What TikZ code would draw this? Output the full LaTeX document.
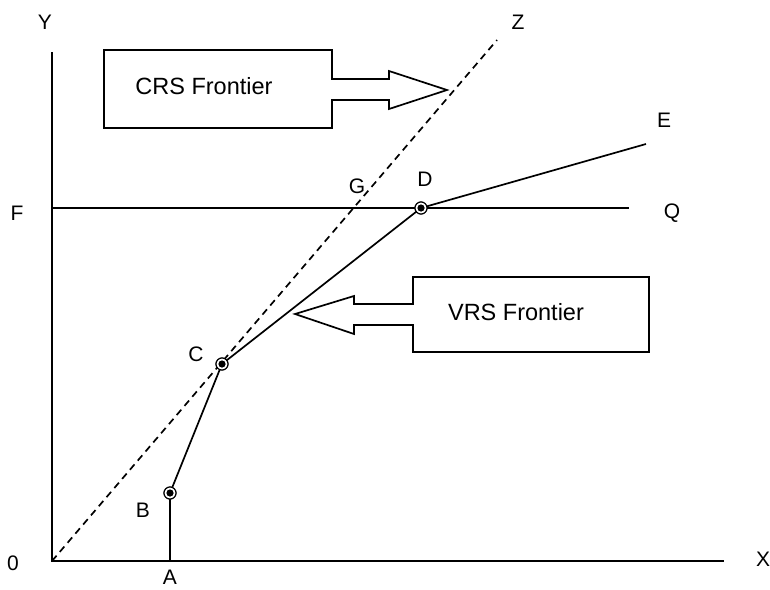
\documentclass[tikz,border=0pt]{standalone}
\usepackage{fontspec}
\setmainfont{Liberation Sans}
\begin{document}
\begin{tikzpicture}[x=1pt,y=-1pt,
  line/.style={line width=1.7pt,line join=miter},
  axis/.style={line width=2pt},
  lbl/.style={font=\fontsize{21}{25}\selectfont,inner sep=0pt},
  boxtext/.style={font=\fontsize{23.5}{28}\selectfont,inner sep=0pt},
  callout/.style={line width=1.7pt,fill=white},
  dmu/.style={circle,draw,line width=1.1pt,fill=white,minimum size=12pt,inner sep=0pt,
    path picture={\fill[black] (path picture bounding box.center) circle (3.6pt);}}]
\useasboundingbox (0,0) rectangle (770,589);

% key points of the production frontier
\coordinate (O) at (52,561);
\coordinate (Ytop) at (52,52);
\coordinate (Xend) at (724,561);
\coordinate (A) at (170,561);
\coordinate (Zend) at (497,40);
\coordinate (F) at (52,208);
\coordinate (Q) at (629,208);
\coordinate (E) at (646,144);

% axes
\draw[axis] (Ytop) -- (O) -- (Xend);

% constant returns to scale ray
\draw[line,dashed,dash pattern=on 7pt off 5pt] (O) -- (Zend);

% horizontal output level
\draw[line] (F) -- (Q);

% variable returns to scale frontier
\node[dmu] (B) at (170,493) {};
\node[dmu] (C) at (222,364) {};
\node[dmu] (D) at (421,208) {};
\draw[line] (A) -- (B.center) -- (C.center) -- (D.center) -- (E);
\node[dmu] at (B) {};
\node[dmu] at (C) {};
\node[dmu] at (D) {};

% callouts
\draw[callout] (104,50) -- (332,50) -- (332,79) -- (389,79) -- (389,71) -- (447,90)
  -- (389,109) -- (389,100) -- (332,100) -- (332,128) -- (104,128) -- cycle;
\node[boxtext] (crs) at (204,86) {CRS Frontier};

\draw[callout] (649,277) -- (413,277) -- (413,304) -- (354,304) -- (354,296) -- (295,314)
  -- (354,334) -- (354,325) -- (413,325) -- (413,352) -- (649,352) -- cycle;
\node[boxtext] (vrs) at (516,312) {VRS Frontier};

% labels
\node[lbl] (lY) at (45,22) {Y};
\node[lbl] (lZ) at (518,22) {Z};
\node[lbl] (lX) at (763,559) {X};
\node[lbl] (l0) at (13,563) {0};
\node[lbl] (lA) at (170,577) {A};
\node[lbl] (lB) at (143,510) {B};
\node[lbl] (lC) at (196,354) {C};
\node[lbl] (lD) at (425,179) {D};
\node[lbl] (lE) at (664,120) {E};
\node[lbl] (lF) at (17,213) {F};
\node[lbl] (lG) at (357,186) {G};
\node[lbl] (lQ) at (672,213) {Q};
\end{tikzpicture}
\end{document}
